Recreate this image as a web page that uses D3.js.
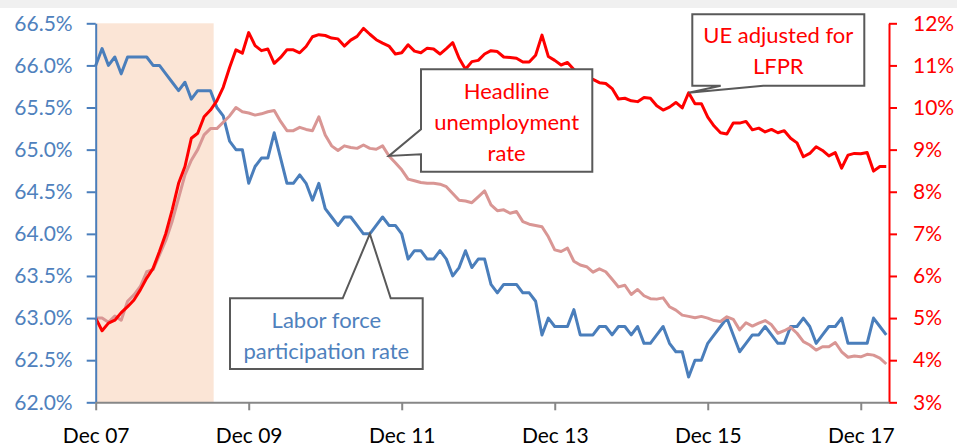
<!DOCTYPE html>
<html>
<head>
<meta charset="utf-8">
<script src="https://cdn.jsdelivr.net/npm/d3@7"></script>
<style>
  html, body { margin: 0; padding: 0; background: #fff; }
  svg { display: block; font-family: Lato, "Open Sans", sans-serif; }
</style>
</head>
<body>
<svg id="chart" width="957" height="447"></svg>
<script>
// ---------- DATA ----------
// monthly observations, Dec 2007 (index 0) to Apr 2018 (index 124)
const xTickIndex = [0, 24, 48, 72, 96, 120];
const xTickLabels = ["Dec 07", "Dec 09", "Dec 11", "Dec 13", "Dec 15", "Dec 17"];
const leftTicks = [62.0, 62.5, 63.0, 63.5, 64.0, 64.5, 65.0, 65.5, 66.0, 66.5];
const rightTicks = [3, 4, 5, 6, 7, 8, 9, 10, 11, 12];
const recession = [0, 18]; // Dec 2007 .. Jun 2009 (month indices)

// Labor force participation rate (%), left axis
const lfpr = [
  66.0, 66.2, 66.0, 66.1, 65.9, 66.1, 66.1, 66.1, 66.1, 66.0, 66.0, 65.9, 65.8,
  65.7, 65.8, 65.6, 65.7, 65.7, 65.7, 65.5, 65.4, 65.1, 65.0, 65.0, 64.6,
  64.8, 64.9, 64.9, 65.2, 64.9, 64.6, 64.6, 64.7, 64.6, 64.4, 64.6, 64.3,
  64.2, 64.1, 64.2, 64.2, 64.1, 64.0, 64.0, 64.1, 64.2, 64.1, 64.1, 64.0,
  63.7, 63.8, 63.8, 63.7, 63.7, 63.8, 63.7, 63.5, 63.6, 63.8, 63.6, 63.7,
  63.7, 63.4, 63.3, 63.4, 63.4, 63.4, 63.3, 63.3, 63.2, 62.8, 63.0, 62.9,
  62.9, 62.9, 63.1, 62.8, 62.8, 62.8, 62.9, 62.9, 62.8, 62.9, 62.9, 62.8,
  62.9, 62.7, 62.7, 62.8, 62.9, 62.7, 62.6, 62.6, 62.3, 62.5, 62.5, 62.7,
  62.8, 62.9, 63.0, 62.8, 62.6, 62.7, 62.8, 62.8, 62.9, 62.8, 62.7, 62.7,
  62.9, 62.9, 63.0, 62.9, 62.7, 62.8, 62.9, 62.9, 63.0, 62.7, 62.7, 62.7,
  62.7, 63.0, 62.9, 62.8
];

// Headline unemployment rate (%), right axis
const headline = [
  5.0, 5.0, 4.9, 5.05, 4.95, 5.4, 5.55, 5.75, 6.1, 6.15, 6.5, 6.85, 7.3,
  7.85, 8.4, 8.75, 9.0, 9.35, 9.5, 9.5, 9.65, 9.8, 10.0, 9.9, 9.87,
  9.82, 9.85, 9.9, 9.93, 9.67, 9.45, 9.45, 9.53, 9.48, 9.45, 9.78, 9.35,
  9.09, 8.98, 9.09, 9.05, 9.03, 9.11, 9.03, 9.01, 9.09, 8.85, 8.69, 8.52,
  8.3, 8.26, 8.22, 8.2, 8.2, 8.18, 8.12, 7.96, 7.8, 7.78, 7.74, 7.88,
  8.02, 7.69, 7.55, 7.57, 7.49, 7.53, 7.29, 7.23, 7.2, 7.17, 6.93, 6.62,
  6.58, 6.66, 6.35, 6.26, 6.22, 6.09, 6.17, 6.1, 5.92, 5.74, 5.78, 5.56,
  5.68, 5.53, 5.46, 5.45, 5.48, 5.27, 5.19, 5.07, 5.04, 5.01, 5.04, 5.0,
  4.94, 4.92, 5.03, 4.97, 4.72, 4.89, 4.81, 4.88, 4.94, 4.84, 4.64, 4.7,
  4.78, 4.64, 4.44, 4.36, 4.24, 4.32, 4.32, 4.42, 4.2, 4.07, 4.1, 4.08,
  4.14, 4.12, 4.05, 3.91
];

// Unemployment rate adjusted for labor force participation (%), right axis
const ueAdjusted = [
  5.0, 4.7, 4.88, 4.95, 5.13, 5.27, 5.43, 5.67, 5.95, 6.18, 6.58, 7.01, 7.57,
  8.2, 8.6, 9.27, 9.39, 9.78, 9.94, 10.16, 10.48, 10.95, 11.37, 11.29, 11.78,
  11.47, 11.35, 11.39, 11.05, 11.19, 11.37, 11.37, 11.3, 11.45, 11.68, 11.73, 11.71,
  11.65, 11.63, 11.46, 11.6, 11.69, 11.88, 11.74, 11.61, 11.53, 11.46, 11.27, 11.3,
  11.49, 11.34, 11.3, 11.41, 11.39, 11.27, 11.4, 11.54, 11.17, 10.91, 11.09, 11.12,
  11.27, 11.35, 11.33, 11.2, 11.19, 11.17, 11.08, 11.08, 11.24, 11.72, 11.21, 11.12,
  11.01, 11.07, 10.9, 10.8, 10.72, 10.67, 10.59, 10.57, 10.45, 10.2, 10.22, 10.16,
  10.14, 10.24, 10.22, 10.04, 9.94, 10.01, 10.12, 9.99, 10.35, 10.09, 10.09, 9.77,
  9.56, 9.4, 9.37, 9.63, 9.63, 9.67, 9.47, 9.51, 9.42, 9.48, 9.4, 9.45,
  9.27, 9.16, 8.83, 8.91, 9.07, 8.98, 8.85, 8.93, 8.56, 8.87, 8.91, 8.9,
  8.93, 8.49, 8.6, 8.6
];

// callout texts and the month each one points at
const calloutHeadline = { lines: ["Headline", "unemployment", "rate"], at: 46 };
const calloutUE = { lines: ["UE adjusted for", "LFPR"], at: 93 };
const calloutLFPR = { lines: ["Labor force", "participation rate"], at: 43 };

// ---------- LAYOUT ----------
const W = 957, H = 447;
const plot = { left: 95.7, right: 889, top: 23.3, bottom: 402.3 };
const C = {
  blue: "#4a7ebb", blueText: "#4f81bd", red: "#ff0000", pink: "#d99694",
  shade: "#fbe5d6", axisGray: "#878787", boxGray: "#595959", topBand: "#f0f0f0"
};
const FS = 21;

const svg = d3.select("#chart");

const x = d3.scaleLinear().domain([0, 124.43]).range([plot.left, plot.right]);
const yL = d3.scaleLinear().domain([62, 66.5]).range([plot.bottom, plot.top]);
const yR = d3.scaleLinear().domain([3, 12]).range([plot.bottom, plot.top]);

// top grey band
svg.append("rect").attr("x", 0).attr("y", 0).attr("width", W).attr("height", 8).attr("fill", C.topBand);

// recession shading (monthly columns, clipped at the plot's left edge)
svg.append("rect")
  .attr("x", x(Math.max(0, recession[0] - 0.5)))
  .attr("y", yL(66.5))
  .attr("width", x(recession[1] + 0.5) - x(Math.max(0, recession[0] - 0.5)))
  .attr("height", yL(62) - yL(66.5))
  .attr("fill", C.shade);

// lines
const idx = d3.range(lfpr.length);
const lineL = d3.line().x(i => x(i)).y(i => yL(lfpr[i]));
const lineH = d3.line().x(i => x(i)).y(i => yR(headline[i]));
const lineU = d3.line().x(i => x(i)).y(i => yR(ueAdjusted[i]));

svg.append("path").attr("d", lineL(idx)).attr("fill", "none").attr("stroke", C.blue)
  .attr("stroke-width", 3).attr("stroke-linejoin", "round");
svg.append("path").attr("d", lineH(idx)).attr("fill", "none").attr("stroke", C.pink)
  .attr("stroke-width", 3).attr("stroke-linejoin", "round");
svg.append("path").attr("d", lineU(idx)).attr("fill", "none").attr("stroke", C.red)
  .attr("stroke-width", 3).attr("stroke-linejoin", "round");

// axes
const gL = svg.append("g").attr("transform", `translate(${plot.left},0)`)
  .call(d3.axisLeft(yL).tickValues(leftTicks).tickFormat(d => d.toFixed(1) + "%")
    .tickSize(9).tickSizeOuter(0).tickPadding(14));
gL.selectAll("path,line").attr("stroke", C.blue).attr("stroke-width", 2);
gL.selectAll("text").attr("fill", C.blueText).attr("font-size", FS).attr("font-family", "Lato");

const gR = svg.append("g").attr("transform", `translate(${plot.right},0)`)
  .call(d3.axisRight(yR).tickValues(rightTicks).tickFormat(d => d + "%")
    .tickSize(8).tickSizeOuter(0).tickPadding(16));
gR.selectAll("path,line").attr("stroke", C.red).attr("stroke-width", 2);
gR.selectAll("text").attr("fill", C.red).attr("font-size", FS).attr("font-family", "Lato");

const gB = svg.append("g").attr("transform", `translate(0,${plot.bottom})`)
  .call(d3.axisBottom(x).tickValues(xTickIndex).tickFormat((d, i) => xTickLabels[i])
    .tickSize(8).tickSizeOuter(0).tickPadding(18));
gB.selectAll("path,line").attr("stroke", C.axisGray).attr("stroke-width", 2);
gB.selectAll("text").attr("fill", "#000").attr("font-size", FS).attr("font-family", "Lato");

// ---------- CALLOUTS ----------
function callout(pathD, lines, cx, cy0, lh, color) {
  svg.append("path").attr("d", pathD).attr("fill", "#fff")
    .attr("stroke", C.boxGray).attr("stroke-width", 2).attr("stroke-linejoin", "miter");
  const t = svg.append("text").attr("text-anchor", "middle").attr("fill", color)
    .attr("font-size", FS + 1).attr("font-family", "Lato");
  lines.forEach((s, k) => t.append("tspan").attr("x", cx).attr("y", cy0 + k * lh)
    .attr("dy", "0.35em").text(s));
}

// Headline
{
  const tx = x(calloutHeadline.at), ty = yR(headline[calloutHeadline.at]);
  const L = 421, R = 592.3, T = 69.3, B = 171.7;
  const d = `M${L},${T}H${R}V${B}H${L}V154.3L${tx},${ty}L${L},129.3Z`;
  callout(d, calloutHeadline.lines, (L + R) / 2, 91.7, 31, C.red);
}
// UE adjusted
{
  const tx = x(calloutUE.at), ty = yR(ueAdjusted[calloutUE.at]);
  const L = 692.3, R = 864.3, T = 14.3, B = 85.7;
  const d = `M${L},${T}H${R}V${B}H763.3L${tx},${ty}L720.7,${B}H${L}Z`;
  callout(d, calloutUE.lines, (L + R) / 2, 35, 31.5, C.red);
}
// LFPR
{
  const tx = x(calloutLFPR.at), ty = yL(lfpr[calloutLFPR.at]);
  const L = 230, R = 422.7, T = 298.3, B = 369;
  const d = `M${L},${T}H342.7L${tx},${ty}L390.7,${T}H${R}V${B}H${L}Z`;
  callout(d, calloutLFPR.lines, (L + R) / 2, 320, 31.7, C.blueText);
}
</script>
</body>
</html>
